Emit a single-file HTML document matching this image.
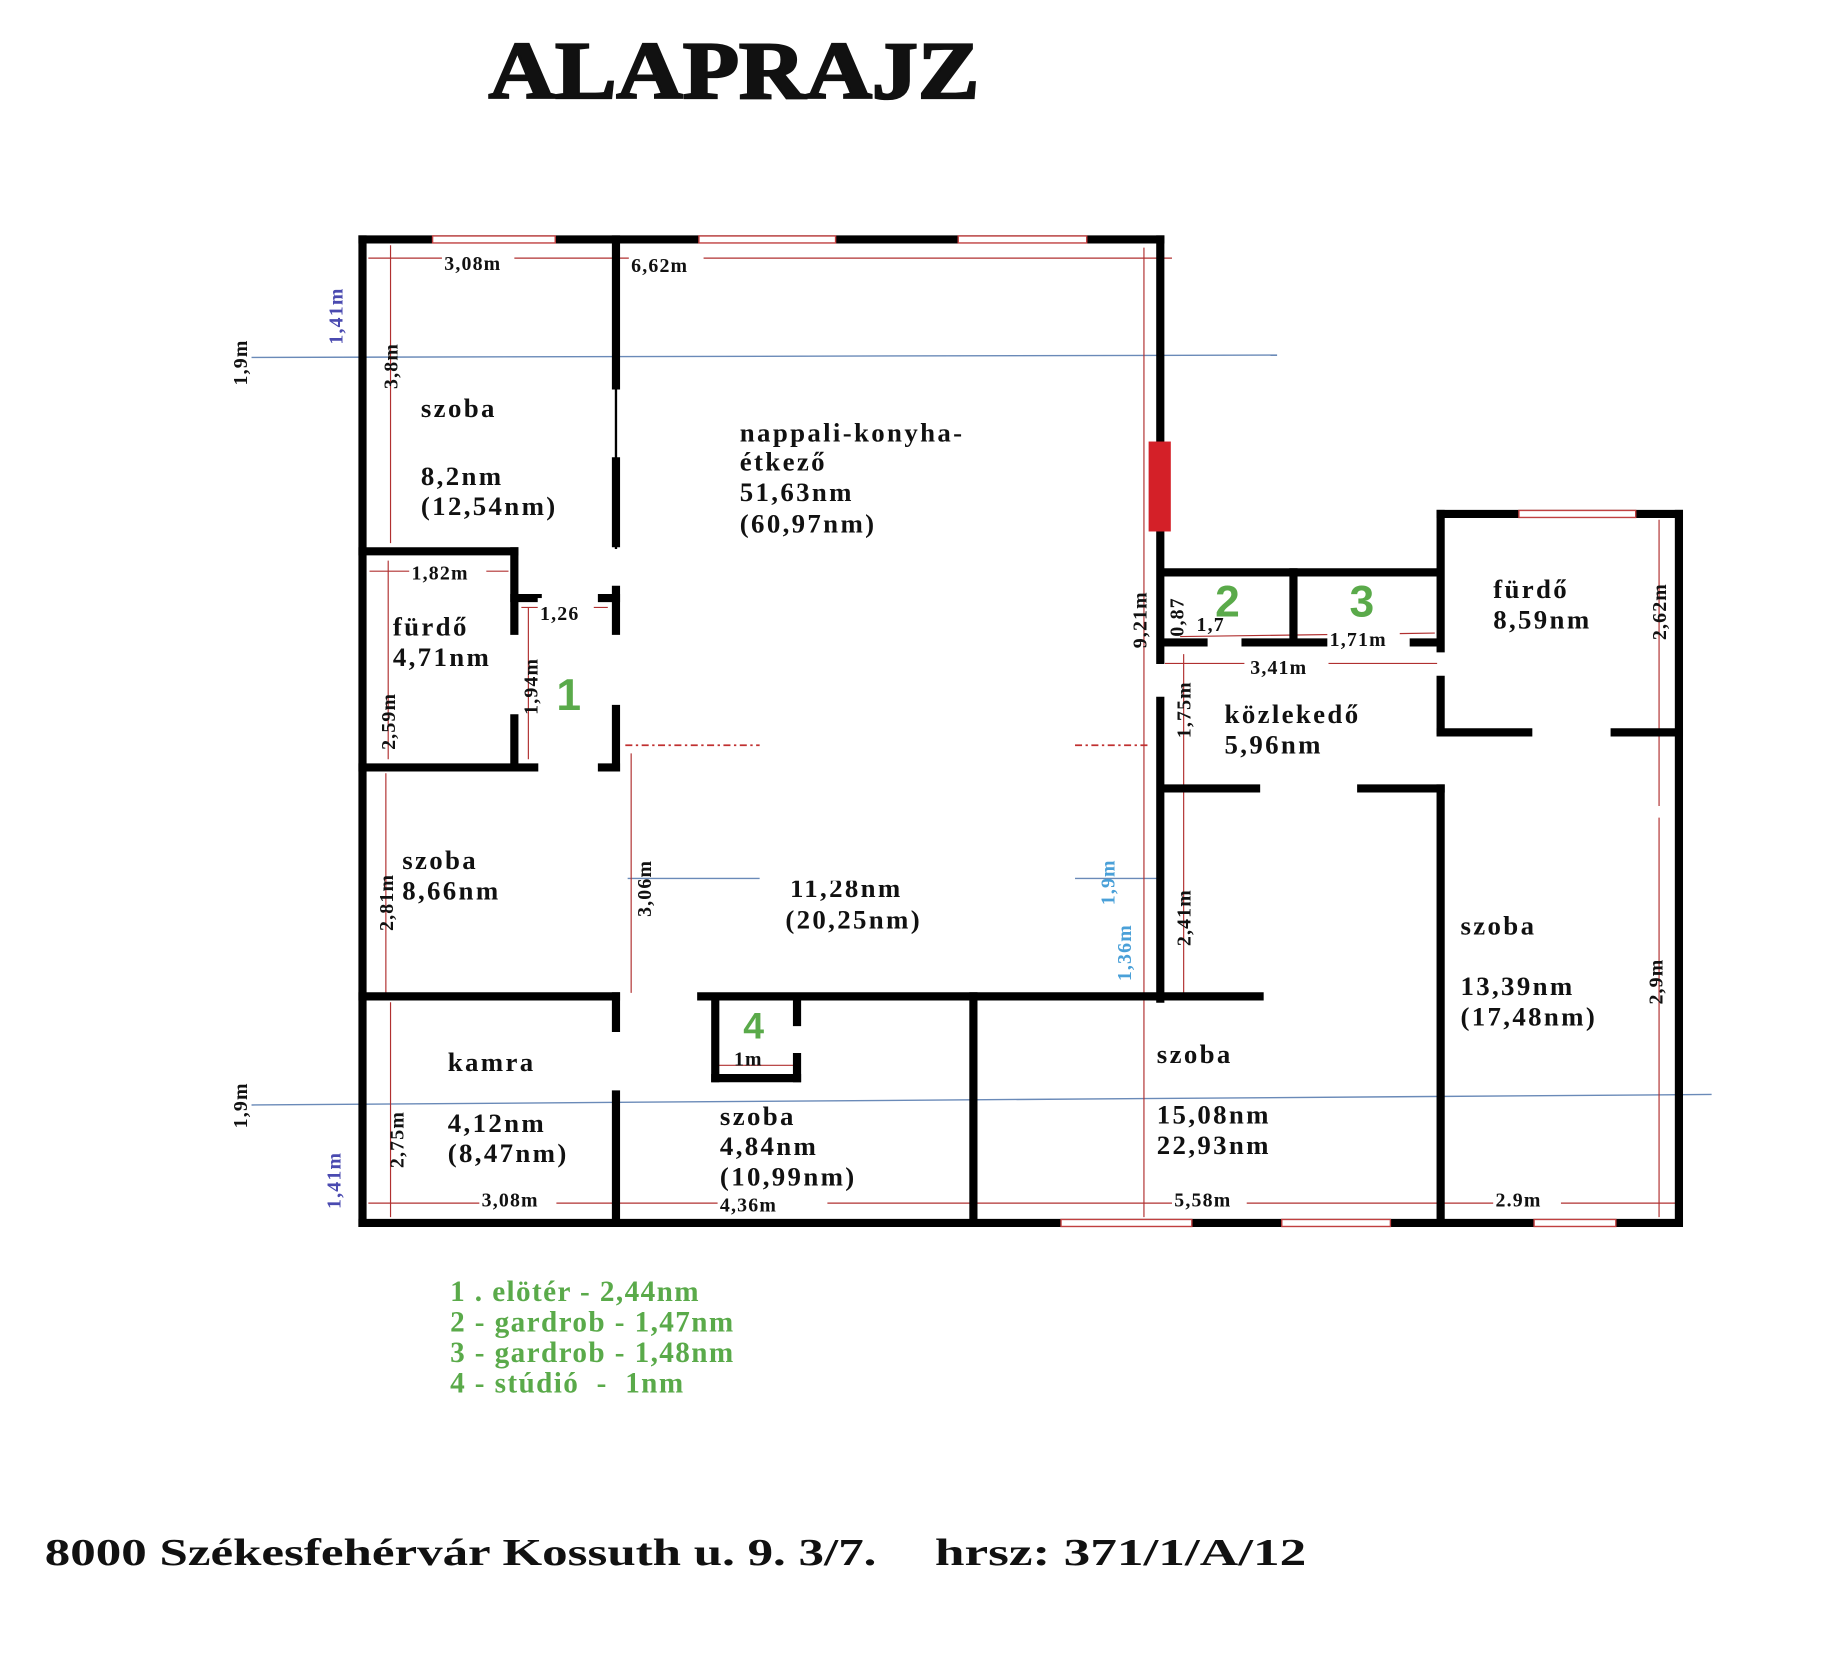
<!DOCTYPE html>
<html><head><meta charset="utf-8"><style>
html,body{margin:0;padding:0;background:#fff;}
svg{display:block;}
text{font-family:"Liberation Serif","DejaVu Serif",serif;font-weight:bold;fill:#111;}
.l text{font-size:23px;letter-spacing:2px;}
.d text{font-size:17px;letter-spacing:1px;}
text.g{fill:#5aaa4a;font-family:"Liberation Sans",sans-serif;}
.lg text{fill:#5aaa4a;font-size:25px;letter-spacing:1.2px;}
text.bl{fill:#4a4ab0;font-size:17px;letter-spacing:1px;}
text.lb{fill:#4aa0d8;font-size:17px;letter-spacing:1px;}
</style></head><body>
<svg width="1830" height="1661" viewBox="0 0 1566 1422" xmlns="http://www.w3.org/2000/svg">
<rect width="1566" height="1422" fill="#fff"/>
<text x="418" y="84" font-size="70" textLength="420" lengthAdjust="spacingAndGlyphs" style="font-weight:900" stroke="#111" stroke-width="2">ALAPRAJZ</text>

<g stroke="#6a8ab8" stroke-width="1.2">
<line x1="215" y1="306" x2="1093" y2="304"/>
<line x1="215" y1="946" x2="1465" y2="937"/>
<line x1="537" y1="752" x2="650" y2="752"/>
<line x1="920" y1="752" x2="990" y2="752"/>
</g>

<g stroke="#b03030" stroke-width="1">
<line x1="315" y1="221" x2="1003" y2="221"/>
<line x1="979" y1="212" x2="979" y2="1042"/>
<line x1="334" y1="210" x2="334" y2="465"/>
<line x1="316" y1="489" x2="435" y2="489"/>
<line x1="332" y1="480" x2="332" y2="650"/>
<line x1="452" y1="520" x2="452" y2="650"/>
<line x1="446" y1="520" x2="520" y2="520"/>
<line x1="330" y1="662" x2="330" y2="850"/>
<line x1="540" y1="645" x2="540" y2="850"/>
<line x1="334" y1="858" x2="334" y2="1042"/>
<line x1="315" y1="1030" x2="1437" y2="1030"/>
<line x1="1013" y1="560" x2="1013" y2="852"/>
<line x1="997" y1="568" x2="1230" y2="568"/>
<line x1="1010" y1="545" x2="1228" y2="542"/>
<line x1="1420" y1="445" x2="1420" y2="690"/>
<line x1="1420" y1="700" x2="1420" y2="1042"/>
<line x1="614" y1="912" x2="680" y2="912"/>
<line x1="614" y1="862" x2="614" y2="920"/>
</g>
<g stroke="#c03030" stroke-width="1.5" stroke-dasharray="6,3,2,3">
<line x1="535" y1="638" x2="650" y2="638"/>
<line x1="920" y1="638" x2="985" y2="638"/>
</g>

<g stroke="#000" stroke-width="7" fill="none" stroke-linecap="square">
<line x1="310" y1="205" x2="310" y2="1047"/>
<line x1="310" y1="205" x2="993" y2="205"/>
<line x1="993" y1="205" x2="993" y2="565"/>
<line x1="993" y1="600" x2="993" y2="855"/>
<line x1="310" y1="1047" x2="1437" y2="1047"/>
<line x1="1437" y1="440" x2="1437" y2="1047"/>
<line x1="1233" y1="440" x2="1437" y2="440"/>
<line x1="1233" y1="440" x2="1233" y2="555"/>
<line x1="1233" y1="582" x2="1233" y2="625"/>
<line x1="1233" y1="627" x2="1308" y2="627"/>
<line x1="1382" y1="627" x2="1437" y2="627"/>
<line x1="996" y1="490" x2="1230" y2="490"/>
<line x1="1107" y1="490" x2="1107" y2="548"/>
<line x1="996" y1="550" x2="1030" y2="550"/>
<line x1="1066" y1="550" x2="1135" y2="550"/>
<line x1="1210" y1="550" x2="1230" y2="550"/>
<line x1="996" y1="675" x2="1075" y2="675"/>
<line x1="1165" y1="675" x2="1233" y2="675"/>
<line x1="1233" y1="675" x2="1233" y2="1047"/>
<line x1="600" y1="853" x2="1078" y2="853"/>
<line x1="833" y1="853" x2="833" y2="1047"/>
<line x1="310" y1="853" x2="527" y2="853"/>
<line x1="527" y1="205" x2="527" y2="330"/>
<line x1="527" y1="395" x2="527" y2="465"/>
<line x1="527" y1="505" x2="527" y2="540"/>
<line x1="527" y1="607" x2="527" y2="657"/>
<line x1="515" y1="512" x2="527" y2="512"/>
<line x1="515" y1="657" x2="527" y2="657"/>
<line x1="527" y1="853" x2="527" y2="880"/>
<line x1="527" y1="937" x2="527" y2="1047"/>
<line x1="310" y1="472" x2="440" y2="472"/>
<line x1="440" y1="472" x2="440" y2="540"/>
<line x1="440" y1="615" x2="440" y2="657"/>
<line x1="440" y1="512" x2="460" y2="512"/>
<line x1="310" y1="657" x2="457" y2="657"/>
<line x1="612" y1="857" x2="612" y2="923"/>
<line x1="612" y1="923" x2="682" y2="923"/>
<line x1="682" y1="905" x2="682" y2="923"/>
<line x1="682" y1="857" x2="682" y2="875"/>
</g>
<line x1="527" y1="330" x2="527" y2="470" stroke="#000" stroke-width="2"/>
<rect x="983" y="378" width="19" height="77" fill="#d42028"/>

<g fill="#fff" stroke="#c04040" stroke-width="1.2">
<rect x="370" y="202" width="105" height="6"/>
<rect x="598" y="202" width="117" height="6"/>
<rect x="820" y="202" width="110" height="6"/>
<rect x="1300" y="437" width="100" height="6"/>
<rect x="908" y="1044" width="112" height="6"/>
<rect x="1097" y="1044" width="93" height="6"/>
<rect x="1313" y="1044" width="70" height="6"/>
</g>

<g fill="#fff">
<rect x="378" y="212" width="62" height="18"/>
<rect x="538" y="212" width="64" height="18"/>
<rect x="350" y="480" width="66" height="18"/>
<rect x="460" y="512" width="48" height="18"/>
<rect x="410" y="1020" width="66" height="18"/>
<rect x="614" y="1020" width="94" height="20"/>
<rect x="1003" y="1020" width="64" height="18"/>
<rect x="1278" y="1020" width="58" height="18"/>
<rect x="1065" y="559" width="72" height="18"/>
<rect x="1136" y="538" width="62" height="18"/>
<rect x="1020" y="524" width="45" height="18"/>
</g>
<g class="d">
<text x="380" y="231">3,08m</text>
<text x="540" y="233">6,62m</text>
<text x="352" y="496">1,82m</text>
<text x="462" y="531">1,26</text>
<text x="412" y="1033">3,08m</text>
<text x="616" y="1037">4,36m</text>
<text x="1005" y="1033">5,58m</text>
<text x="1280" y="1033">2.9m</text>
<text x="1070" y="577">3,41m</text>
<text x="1138" y="553">1,71m</text>
<text x="1024" y="540">1,7</text>
<text x="628" y="912">1m</text>
<text transform="translate(340,333) rotate(-90)">3,8m</text>
<text transform="translate(338,642) rotate(-90)">2,59m</text>
<text transform="translate(460,612) rotate(-90)">1,94m</text>
<text transform="translate(336,797) rotate(-90)">2,81m</text>
<text transform="translate(557,785) rotate(-90)">3,06m</text>
<text transform="translate(345,1000) rotate(-90)">2,75m</text>
<text transform="translate(981,555) rotate(-90)">9,21m</text>
<text transform="translate(1013,545) rotate(-90)">0,87</text>
<text transform="translate(1019,632) rotate(-90)">1,75m</text>
<text transform="translate(1019,810) rotate(-90)">2,41m</text>
<text transform="translate(1426,548) rotate(-90)">2,62m</text>
<text transform="translate(1423,860) rotate(-90)">2,9m</text>
<text transform="translate(211,330) rotate(-90)">1,9m</text>
<text transform="translate(211,966) rotate(-90)">1,9m</text>
</g>
<text class="bl" transform="translate(293,295) rotate(-90)">1,41m</text>
<text class="bl" transform="translate(291,1035) rotate(-90)">1,41m</text>
<text class="lb" transform="translate(954,775) rotate(-90)">1,9m</text>
<text class="lb" transform="translate(968,840) rotate(-90)">1,36m</text>

<g class="l">
<text x="360" y="357">szoba</text>
<text x="360" y="415">8,2nm</text>
<text x="360" y="441">(12,54nm)</text>
<text x="633" y="378">nappali-konyha-</text>
<text x="633" y="403">étkező</text>
<text x="633" y="429">51,63nm</text>
<text x="633" y="456">(60,97nm)</text>
<text x="336" y="544">fürdő</text>
<text x="336" y="570">4,71nm</text>
<text x="344" y="744">szoba</text>
<text x="344" y="770">8,66nm</text>
<text x="676" y="768">11,28nm</text>
<text x="672" y="795">(20,25nm)</text>
<text x="383" y="917">kamra</text>
<text x="383" y="969">4,12nm</text>
<text x="383" y="995">(8,47nm)</text>
<text x="616" y="963">szoba</text>
<text x="616" y="989">4,84nm</text>
<text x="616" y="1015">(10,99nm)</text>
<text x="990" y="910">szoba</text>
<text x="990" y="962">15,08nm</text>
<text x="990" y="988">22,93nm</text>
<text x="1278" y="512">fürdő</text>
<text x="1278" y="538">8,59nm</text>
<text x="1048" y="619">közlekedő</text>
<text x="1048" y="645">5,96nm</text>
<text x="1250" y="800">szoba</text>
<text x="1250" y="852">13,39nm</text>
<text x="1250" y="878">(17,48nm)</text>
</g>
<rect x="660" y="740" width="150" height="14" fill="#fff"/>

<text class="g" x="476" y="608" font-size="38">1</text>
<text class="g" x="1040" y="528" font-size="38">2</text>
<text class="g" x="1155" y="528" font-size="38">3</text>
<text class="g" x="636" y="889" font-size="32">4</text>

<g class="lg">
<text x="385" y="1114">1 . elötér - 2,44nm</text>
<text x="385" y="1140">2 - gardrob - 1,47nm</text>
<text x="385" y="1166">3 - gardrob - 1,48nm</text>
<text x="385" y="1192">4 - stúdió &#160;- &#160;1nm</text>
</g>

<text x="38" y="1340" font-size="33" textLength="712" lengthAdjust="spacingAndGlyphs">8000 Székesfehérvár Kossuth u. 9. 3/7.</text>
<text x="800" y="1340" font-size="33" textLength="318" lengthAdjust="spacingAndGlyphs">hrsz: 371/1/A/12</text>
</svg>
</body></html>
